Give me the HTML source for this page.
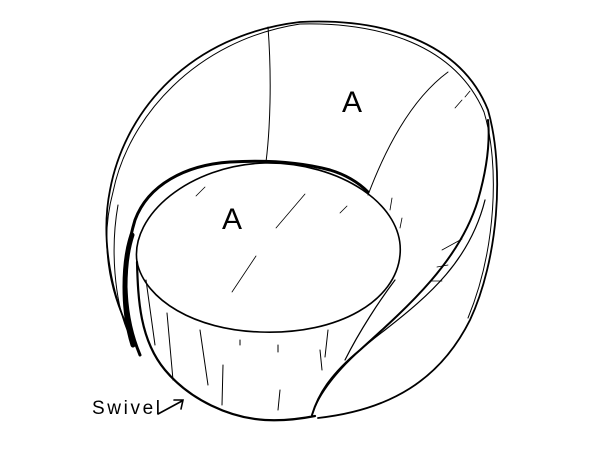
<!DOCTYPE html>
<html><head><style>html,body{margin:0;padding:0;background:#fff;width:600px;height:450px;overflow:hidden}</style></head>
<body>
<svg width="600" height="450" viewBox="0 0 600 450" xmlns="http://www.w3.org/2000/svg" fill="none" stroke="#000" stroke-linecap="round">
<path d="M133,338 C112,300 100,240 110,190 C125,110 190,35 300,22 C380,18 460,40 488,110 C505,170 498,260 470,320 C440,380 390,410 318,418" stroke-width="1.8"/>
<path d="M130,332 C108,290 100,240 113,192 C128,118 195,40 300,24 C380,22 455,45 484,112 C500,165 496,250 468,318" stroke-width="1"/>
<path d="M127,330 C115,300 110,250 118,205" stroke-width="1"/>
<path d="M140,355 C125,320 120,270 135,220 C148,185 185,165 230,162 C265,160 300,162 330,170 C350,176 362,186 368,192" stroke-width="3"/>
<path d="M133,345 C122,310 123,262 132,235" stroke-width="5"/>
<path d="M268,27 C272,80 270,130 266,162" stroke-width="1"/>
<path d="M448,72 C410,100 385,150 368,195" stroke-width="1"/>
<path d="M312,415 C318,395 330,375 360,350 C410,305 460,260 478,200 C488,165 490,140 488,120" stroke-width="2"/>
<path d="M312,415 C320,390 345,360 385,330 C430,295 470,260 485,200" stroke-width="1.2"/>
<path d="M137,262 C130,215 190,165 265,163 C340,162 405,205 400,255 C396,300 340,335 260,332 C195,330 145,300 137,262 Z" stroke-width="1.6"/>
<path d="M137,262 C138,300 140,340 165,370 C190,400 230,418 265,420 C285,421 300,419 315,416" stroke-width="2.2"/>
<path d="M395,280 C380,300 360,330 345,360" stroke-width="1.2"/>
<g stroke-width="1">
<path d="M146,280 L155,345"/><path d="M167,313 L173,380"/><path d="M200,330 L208,385"/>
<path d="M223,365 L222,405"/><path d="M280,390 L278,410"/><path d="M320,350 L322,370"/>
<path d="M240,340 L240,345"/><path d="M278,345 L278,352"/><path d="M328,330 L325,357"/>
</g>
<g stroke-width="0.8">
<path d="M196,196 L205,187"/><path d="M276,228 L305,194"/><path d="M232,292 L256,256"/><path d="M340,213 L347,206"/>
<path d="M392,198 L390,210"/><path d="M402,218 L400,228"/><path d="M442,250 L462,239"/><path d="M437,267 L448,265"/><path d="M430,281 L442,281"/>
<path d="M455,108 L462,100"/><path d="M465,97 L470,91"/>
</g>
<text x="352" y="112" font-family="Liberation Sans, sans-serif" font-size="30" fill="#000" stroke="none" text-anchor="middle">A</text>
<text x="232" y="229" font-family="Liberation Sans, sans-serif" font-size="30" fill="#000" stroke="none" text-anchor="middle">A</text>
<text x="92" y="414" font-family="Liberation Sans, sans-serif" font-size="19" fill="#000" stroke="none" textLength="68">Swivel</text>
<path d="M158,414 L182,401 M174,400 L183,400 L181,409" stroke-width="1.6"/>
</svg>
</body></html>
